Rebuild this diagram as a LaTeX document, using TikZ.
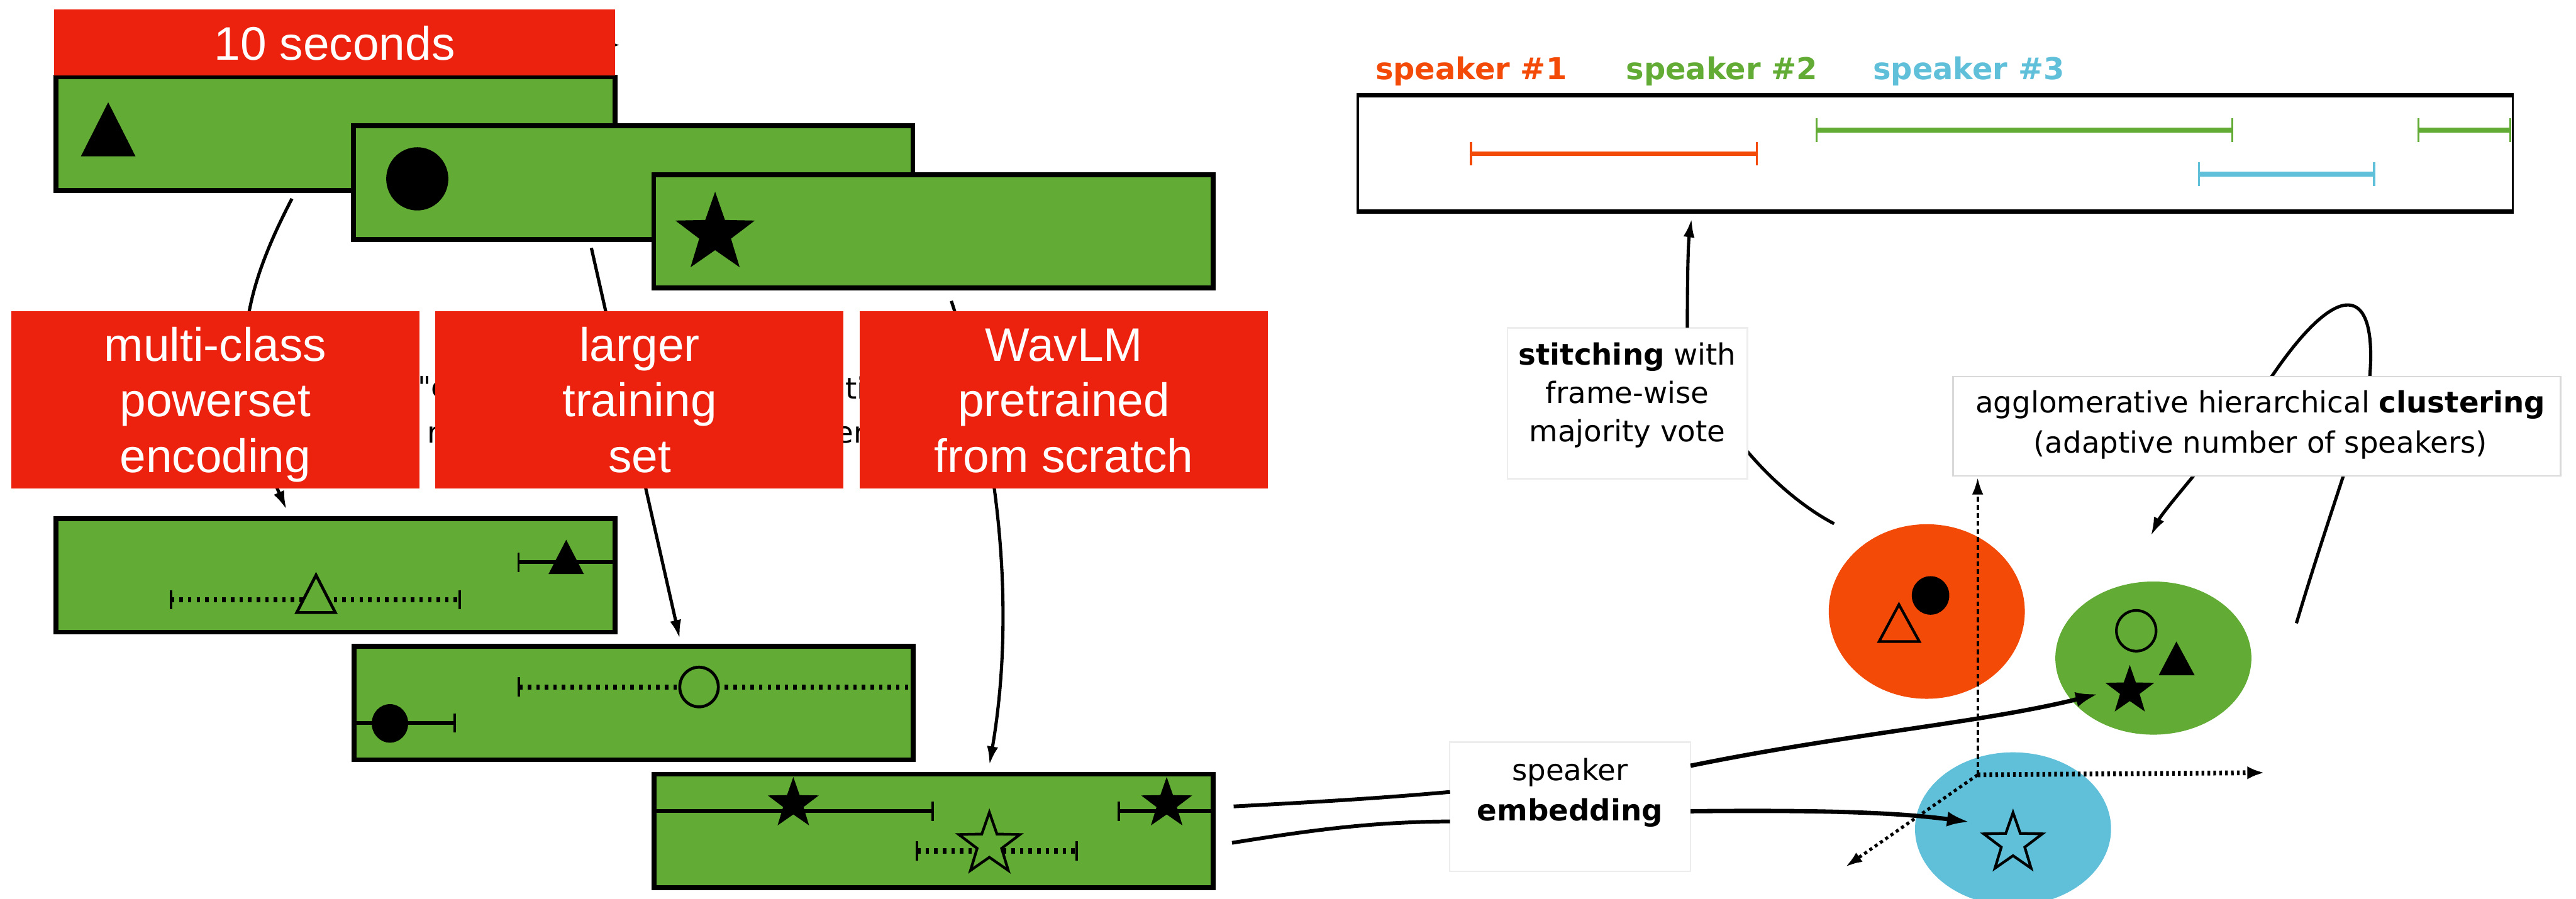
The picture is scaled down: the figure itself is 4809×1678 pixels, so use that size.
\documentclass[tikz,border=0pt]{standalone}
\usepackage{fontspec}
\usetikzlibrary{arrows.meta,shapes.geometric}
\newfontfamily\arialf{Liberation Sans}
\newfontfamily\dvs{DejaVu Sans}
\definecolor{gfill}{RGB}{98,172,53}
\definecolor{rboxc}{RGB}{236,33,14}
\definecolor{spko}{RGB}{243,74,8}
\definecolor{spkb}{RGB}{96,192,218}
\begin{document}
\begin{tikzpicture}[x=0.1mm,y=-0.1mm,
  gbox/.style={draw=black, line width=0.9mm, fill=gfill, minimum width=104.4mm, minimum height=21.2mm, inner sep=0pt},
  rbox/.style={fill=rboxc, inner sep=0pt, minimum width=76.2mm, minimum height=33.1mm},
  rtxt/.style={text=white, font={\arialf\fontsize{25pt}{29.6pt}\selectfont}, anchor=base, inner sep=0pt},
  sbar/.style={line width=0.7mm},
  dbar/.style={line width=1.0mm, dash pattern=on 0.65mm off 0.95mm},
  tick/.style={line width=0.45mm},
  conn/.style={line width=0.6mm, -{Latex[length=10pt,width=6pt]}},
  plain/.style={line width=0.6mm},
  thickarr/.style={line width=0.8mm, -{Latex[length=12pt,width=8pt]}},
  tx/.style={font={\dvs\fontsize{15.6pt}{20pt}\selectfont}, inner sep=0pt, anchor=base},
  wbox/.style={fill=white, draw=black!7, line width=0.3mm, inner sep=0pt},
  bstar/.style={star, star points=5, star point ratio=2.5, inner sep=0pt, fill=black},
  ostar/.style={star, star points=5, star point ratio=2.5, inner sep=0pt, draw=black, line width=0.5mm},
  tlbar/.style={line width=0.9mm},
  tltick/.style={line width=0.4mm}
]
\useasboundingbox (0,0) rectangle (4809,1678);
\fill[white] (0,0) rectangle (4809,1678);

% ---------- left connectors (partly hidden by red boxes)
\coordinate (c1s) at (545,371); \coordinate (c1e) at (535,952);
\coordinate (c2s) at (1104,463); \coordinate (c2e) at (1269,1193);
\coordinate (c3s) at (1776,562); \coordinate (c3e) at (1847,1429);
\draw[conn] (c1s) .. controls (441,571) and (425,702) .. (c1e);
\draw[conn] (c2s) -- (c2e);
\draw[conn] (c3s) .. controls (1870,850) and (1895,1150) .. (c3e);
% hidden text fragments peeking between red boxes
\node[tx, anchor=base west] (h1) at (779,743) {"e};
\node[tx, anchor=base west] (h2) at (797,827) {r};
\node[tx, anchor=base west] (h3) at (1578,745) {ti};
\node[tx, anchor=base west] (h4) at (1559,827) {er};
% small hidden arrow tip at the 10 seconds bar
\coordinate (ta) at (1000,84); \coordinate (tb) at (1157,84);
\draw[line width=0.4mm, -{Latex[length=4pt,width=3pt]}] (ta) -- (tb);

% ---------- top boxes
\node[gbox] (b1) at (626.5,250) {};
\fill (151,292) -- (202,191) -- (253,292) -- cycle;
\node[gbox] (b2) at (1182,341) {};
\fill (779,334) ellipse [x radius=58, y radius=59];
\node[gbox] (b3) at (1742.5,432) {};
\node[bstar, minimum size=15.6mm] (s3) at (1335,436) {};

% ---------- red boxes
\node[rbox, minimum width=104.7mm, minimum height=12.3mm] (sec) at (624.5,79.5) {};
\node[rtxt] (sect) at (625,112) {10 seconds};
\node[rbox] (rb1) at (402,746.5) {};
\node[rtxt] (rb1a) at (402,674) {multi-class};
\node[rtxt] (rb1b) at (402,778) {powerset};
\node[rtxt] (rb1c) at (402,882) {encoding};
\node[rbox] (rb2) at (1194,746.5) {};
\node[rtxt] (rb2a) at (1194,674) {larger};
\node[rtxt] (rb2b) at (1194,778) {training};
\node[rtxt] (rb2c) at (1194,882) {set};
\node[rbox] (rb3) at (1986,746.5) {};
\node[rtxt] (rb3a) at (1986,674) {WavLM};
\node[rtxt] (rb3b) at (1986,778) {pretrained};
\node[rtxt] (rb3c) at (1986,882) {from scratch};

% ---------- lower boxes
\node[gbox] (lb1) at (626.5,1074.5) {};
\draw[sbar] (968,1050) -- (1147,1050);
\draw[tick] (968,1032) -- (968,1068);
\fill (1024,1072) -- (1057,1008) -- (1090,1072) -- cycle;
\draw[dbar] (319,1120) -- (858,1120);
\draw[tick] (319,1102) -- (319,1138);
\draw[tick] (858,1102) -- (858,1138);
\filldraw[fill=gfill, line width=0.55mm] (554,1144) -- (590,1074) -- (626,1144) -- cycle;

\node[gbox] (lb2) at (1183,1313) {};
\draw[dbar] (969,1283) -- (1705,1283);
\draw[tick] (969,1265) -- (969,1301);
\filldraw[fill=gfill, line width=0.55mm] (1305,1283) ellipse [x radius=36, y radius=37];
\draw[sbar] (660,1350) -- (849,1350);
\draw[tick] (849,1332) -- (849,1368);
\fill (728,1351) ellipse [x radius=34, y radius=36];

\node[gbox] (lb3) at (1743,1552) {};
\draw[sbar] (1220,1515) -- (1741,1515);
\draw[tick] (1741,1497) -- (1741,1533);
\node[bstar, minimum size=10mm] (s4) at (1481,1501) {};
\draw[sbar] (2089,1515) -- (2265,1515);
\draw[tick] (2089,1497) -- (2089,1533);
\node[bstar, minimum size=10mm] (s5) at (2178,1501) {};
\draw[dbar] (1712,1589) -- (2010,1589);
\draw[tick] (1712,1571) -- (1712,1607);
\draw[tick] (2010,1571) -- (2010,1607);
\node[ostar, fill=gfill, minimum size=12mm] (s6) at (1847,1577) {};

% ---------- timeline
\node[draw=black, line width=0.4mm, minimum width=215.6mm, minimum height=21.3mm, inner sep=0pt] (tl) at (3613,286.5) {};
\draw[line width=0.8mm] (tl.north west) -- (tl.north east);
\draw[line width=0.8mm] (tl.south west) -- (tl.south east);
\node[font={\dvs\bfseries\fontsize{16pt}{19pt}\selectfont}, text=spko, inner sep=0pt, anchor=base west] (sp1) at (2567,148) {speaker \#1};
\node[font={\dvs\bfseries\fontsize{16pt}{19pt}\selectfont}, text=gfill, inner sep=0pt, anchor=base west] (sp2) at (3035,148) {speaker \#2};
\node[font={\dvs\bfseries\fontsize{16pt}{19pt}\selectfont}, text=spkb, inner sep=0pt, anchor=base west] (sp3) at (3496,148) {speaker \#3};
\draw[tlbar, gfill] (3391,243) -- (4167,243);
\draw[tltick, gfill] (3391,221) -- (3391,265); \draw[tltick, gfill] (4167,221) -- (4167,265);
\draw[tlbar, gfill] (4515,243) -- (4686,243);
\draw[tltick, gfill] (4515,221) -- (4515,265); \draw[tltick, gfill] (4686,221) -- (4686,265);
\draw[tlbar, spko] (2746,287) -- (3280,287);
\draw[tltick, spko] (2746,265) -- (2746,309); \draw[tltick, spko] (3280,265) -- (3280,309);
\draw[tlbar, spkb] (4105,325) -- (4432,325);
\draw[tltick, spkb] (4105,303) -- (4105,347); \draw[tltick, spkb] (4432,303) -- (4432,347);

% ---------- curves behind the label boxes
\coordinate (stout) at (3262,843); \coordinate (eotop) at (3424,978);
\draw[plain] (stout) .. controls (3310,900) and (3370,950) .. (eotop);
\coordinate (lps) at (4287,1164); \coordinate (lpr) at (4424,703);
\coordinate (lpl) at (4241,703); \coordinate (lpe) at (4015,1001);
\draw[conn] (lps) .. controls (4360,920) and (4424,760) .. (lpr)
  .. controls (4438,530) and (4365,520) .. (lpl)
  .. controls (4179,794) and (4040,950) .. (lpe);

% ---------- label boxes
\node[wbox, minimum width=44.8mm, minimum height=28.2mm] (st) at (3038,753) {};
\node[tx] (st1) at (3038,682) {\textbf{stitching} with};
\node[tx] (st2) at (3038,753.5) {frame-wise};
\node[tx] (st3) at (3038,825) {majority vote};
\coordinate (stin) at (3150,612); \coordinate (tlin) at (3158,408);
\draw[conn] (stin) .. controls (3150,500) and (3152,450) .. (tlin);

\node[wbox, draw=black!15, minimum width=113.4mm, minimum height=18.6mm] (cl) at (4213,796) {};
\node[tx] (cl1) at (4220,771) {agglomerative hierarchical \textbf{clustering}};
\node[tx] (cl2) at (4220,846) {(adaptive number of speakers)};

\node[wbox, minimum width=45mm, minimum height=24.1mm] (emb) at (2931,1506.5) {};
\node[tx] (emb1) at (2931,1458) {speaker};
\node[tx] (emb2) at (2931,1533) {\textbf{embedding}};
\coordinate (l1s) at (2303,1506); \coordinate (l1e) at (2707,1479);
\coordinate (l2s) at (2300,1574); \coordinate (l2e) at (2707,1534);
\draw[line width=0.7mm] (l1s) .. controls (2450,1498) and (2560,1492) .. (l1e);
\draw[line width=0.7mm] (l2s) .. controls (2450,1550) and (2560,1535) .. (l2e);

% ---------- clusters
\node[ellipse, fill=spko, minimum width=36.6mm, minimum height=32.6mm, inner sep=0pt] (eo) at (3597,1142) {};
\node[ellipse, fill=gfill, minimum width=36.6mm, minimum height=28.6mm, inner sep=0pt] (eg) at (4020,1229) {};
\node[ellipse, fill=spkb, minimum width=36.6mm, minimum height=28.6mm, inner sep=0pt] (eb) at (3758,1548) {};
\fill (3604,1112) ellipse [x radius=35, y radius=36];
\filldraw[fill=spko, line width=0.5mm] (3508,1198) -- (3545,1129) -- (3583,1198) -- cycle;
\filldraw[fill=gfill, line width=0.5mm] (3988,1178) ellipse [x radius=37, y radius=38];
\fill (4030,1261) -- (4063,1198) -- (4097,1261) -- cycle;
\node[bstar, minimum size=9.6mm] (s7) at (3976,1290) {};
\node[ostar, fill=spkb, minimum size=11.5mm] (s8) at (3758,1575) {};

% ---------- axes
\coordinate (ax0) at (3692,1447);
\coordinate (axv) at (3692,892);
\coordinate (axh) at (4227,1443);
\coordinate (axd) at (3445,1619);
\draw[line width=0.45mm, dash pattern=on 0.9mm off 0.6mm, -{Latex[length=9pt,width=6pt]}] (ax0) -- (axv);
\draw[line width=0.9mm, dash pattern=on 0.5mm off 0.6mm, -{Latex[length=9pt,width=7pt]}] (ax0) -- (axh);
\draw[line width=0.6mm, dash pattern=on 0.6mm off 0.6mm, -{Latex[length=9pt,width=6pt]}] (ax0) -- (axd);

% ---------- embedding arrows
\coordinate (e1s) at (3156,1430); \coordinate (e1e) at (3917,1296);
\coordinate (e2s) at (3156,1515); \coordinate (e2e) at (3677,1535);
\draw[thickarr] (e1s) .. controls (3450,1370) and (3700,1350) .. (e1e);
\draw[thickarr] (e2s) .. controls (3450,1512) and (3560,1520) .. (e2e);
\end{tikzpicture}
\end{document}
